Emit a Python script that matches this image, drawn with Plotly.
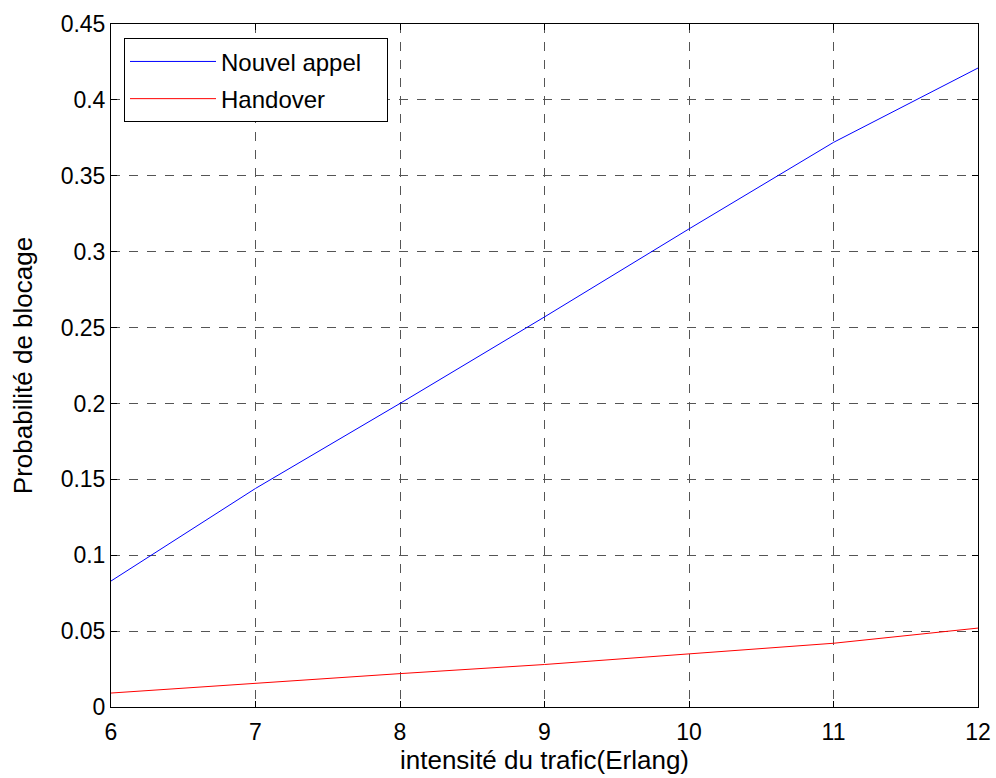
import plotly.graph_objects as go

x_erlang = [6, 7, 8, 9, 10, 11, 12]
nouvel_appel = [0.083, 0.144, 0.200, 0.257, 0.315, 0.372, 0.421]
handover = [0.0092, 0.0158, 0.022, 0.028, 0.035, 0.042, 0.052]

x_ticks = [6, 7, 8, 9, 10, 11, 12]
y_ticks = [0, 0.05, 0.1, 0.15, 0.2, 0.25, 0.3, 0.35, 0.4, 0.45]
y_labels = ["0", "0.05", "0.1", "0.15", "0.2", "0.25", "0.3", "0.35", "0.4", "0.45"]

font = "Liberation Sans, Arial, sans-serif"
fs = 23
fs_title = 26

fig = go.Figure()
fig.add_trace(go.Scatter(x=x_erlang, y=nouvel_appel, mode="lines", name="Nouvel appel\u00a0\u00a0\u00a0",
                         legendgroup="a", line=dict(color="#0000ff", width=1)))
fig.add_trace(go.Scatter(x=x_erlang, y=handover, mode="lines", name="Handover",
                         legendgroup="b", line=dict(color="#ff0000", width=1)))

axis_common = dict(showline=True, linecolor="black", linewidth=1, mirror="ticks",
                   ticks="inside", ticklen=6, tickcolor="black",
                   showgrid=True, gridcolor="#555555", griddash="dash", gridwidth=1,
                   zeroline=False, tickfont=dict(family=font, size=fs, color="black"))

fig.update_xaxes(range=[6, 12], tickvals=x_ticks, ticklabelstandoff=4,
                 title=dict(text="intensité du trafic(Erlang)", font=dict(family=font, size=fs_title, color="black"), standoff=6),
                 **axis_common)
fig.update_yaxes(range=[0, 0.45], tickvals=y_ticks, ticktext=y_labels,
                 title=dict(text="Probabilité de blocage", font=dict(family=font, size=fs_title, color="black"), standoff=20),
                 **axis_common)

fig.update_layout(
    width=996, height=778,
    margin=dict(l=111, r=18, t=24, b=71, autoexpand=False),
    paper_bgcolor="white", plot_bgcolor="white",
    font=dict(family=font, size=fs, color="black"),
    legend=dict(x=0.015, y=0.979, xanchor="left", yanchor="top",
                bgcolor="white", bordercolor="black", borderwidth=1,
                itemwidth=86, font=dict(family=font, size=24, color="black"),
                tracegroupgap=3),
)

fig.write_html("out.html", config={"displayModeBar": False},
               post_script="document.body.style.margin='0';document.body.style.overflow='hidden';")
